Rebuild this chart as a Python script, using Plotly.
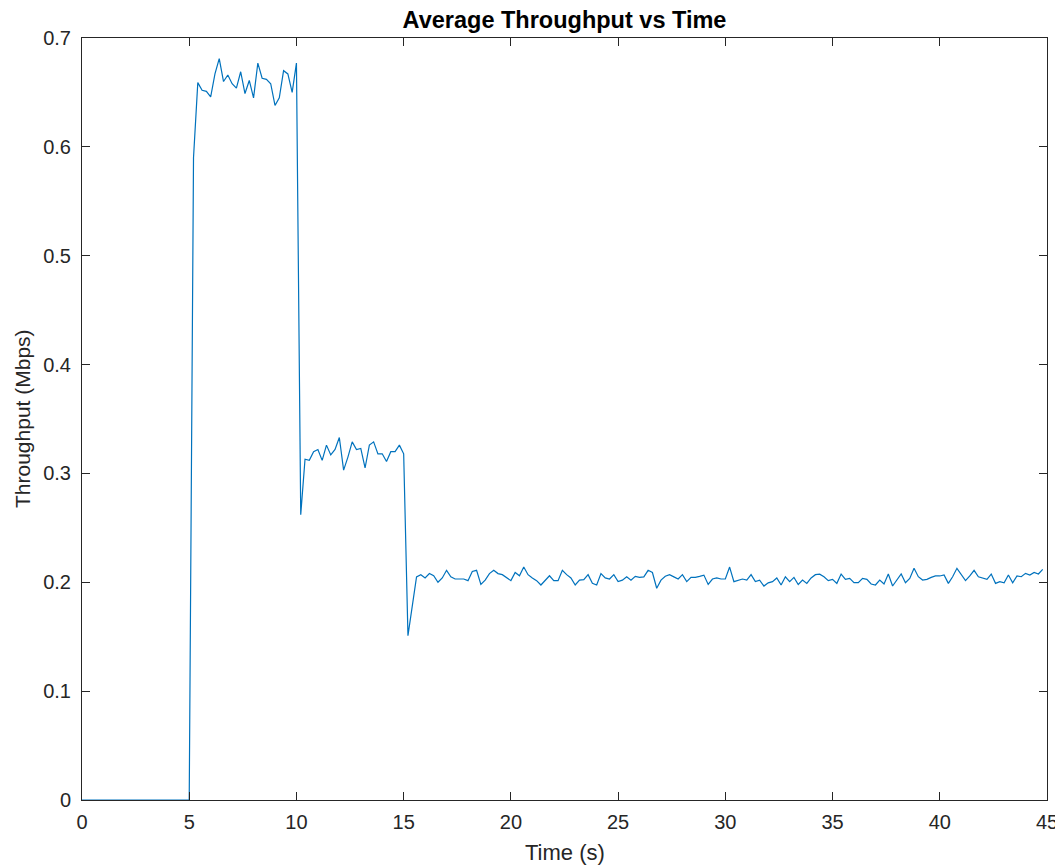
import numpy as np
import plotly.graph_objects as go

# sampling step 0.2 s, 225 samples (0 .. 44.8 s)
n_samples = 225
step_s = 0.2
time_s = np.round(np.arange(n_samples) * step_s, 1)

idle = [0.0] * 26  # 0.0 .. 5.0 s

phase1 = [0.590, 0.659, 0.652, 0.651, 0.646, 0.667, 0.681, 0.660, 0.666, 0.658,
          0.654, 0.669, 0.649, 0.661, 0.645, 0.677, 0.663, 0.662, 0.658, 0.638,
          0.645, 0.670, 0.667, 0.650, 0.677]  # 5.2 .. 10.0 s

phase2 = [0.262, 0.313, 0.312, 0.320, 0.322, 0.312, 0.326, 0.317, 0.322, 0.333,
          0.303, 0.315, 0.329, 0.322, 0.323, 0.305, 0.326, 0.329, 0.318, 0.318,
          0.311, 0.320, 0.320, 0.326, 0.318]  # 10.2 .. 15.0 s

phase3 = [0.151, 0.180,
          0.205, 0.207, 0.204, 0.208, 0.206, 0.200, 0.204, 0.211, 0.205, 0.203,
          0.203, 0.203, 0.2015, 0.210, 0.211, 0.198, 0.202, 0.208, 0.211, 0.208,
          0.207, 0.204, 0.2015, 0.209, 0.206, 0.214, 0.207, 0.204, 0.2015, 0.1975,
          0.2015, 0.206, 0.2015, 0.2015,
          0.211, 0.207, 0.204, 0.1975, 0.202, 0.2025, 0.207, 0.199, 0.1975,
          0.208, 0.204, 0.203, 0.207, 0.2006, 0.202, 0.205, 0.202, 0.2055, 0.2045,
          0.205, 0.211, 0.209, 0.1945, 0.202, 0.2055, 0.207, 0.205, 0.203, 0.207,
          0.2006, 0.2045, 0.2045, 0.2055, 0.2066, 0.198, 0.203, 0.204, 0.203, 0.203,
          0.214, 0.2006, 0.202, 0.203, 0.202, 0.207, 0.2006, 0.202, 0.1965, 0.1995,
          0.2006, 0.204, 0.1975, 0.205, 0.2006, 0.2045, 0.198, 0.202, 0.199, 0.204,
          0.207, 0.2075,
          0.205, 0.2015, 0.2027, 0.199, 0.2076, 0.2027, 0.2036, 0.1996, 0.1996, 0.2036,
          0.2027, 0.1984, 0.1975, 0.2021, 0.1984, 0.2076, 0.1966, 0.2027, 0.2076, 0.1996,
          0.2036, 0.2128, 0.2051, 0.2021, 0.2027, 0.2045, 0.2058, 0.2058, 0.2067, 0.199,
          0.2051, 0.2128, 0.2067, 0.2015, 0.2058, 0.211, 0.2051, 0.2036, 0.2027, 0.2076,
          0.199, 0.2006, 0.1996, 0.2067, 0.1996, 0.2058, 0.2051, 0.2082, 0.2067, 0.2091,
          0.2076, 0.2119]  # 15.2 .. 44.8 s

throughput = idle + phase1 + phase2 + phase3

x_ticks = [0, 5, 10, 15, 20, 25, 30, 35, 40, 45]
y_ticks = [0, 0.1, 0.2, 0.3, 0.4, 0.5, 0.6, 0.7]
y_tick_labels = ["0", "0.1", "0.2", "0.3", "0.4", "0.5", "0.6", "0.7"]

fig = go.Figure()
fig.add_trace(go.Scatter(
    x=time_s[:len(throughput)], y=throughput, mode="lines",
    line=dict(color="#0072BD", width=1.2),
    showlegend=False, cliponaxis=False,
))

axis_common = dict(
    showgrid=False, zeroline=False, showline=True, linecolor="#262626",
    linewidth=1, mirror="ticks", ticks="inside", ticklen=8, tickwidth=1,
    tickcolor="#262626", tickfont=dict(size=20, color="#262626"),
    automargin=False,
)

# the page body has an 8px margin, so the figure is 1055x859 placed at (8, 8)
fig_w, fig_h = 1055, 859

fig.update_layout(
    width=fig_w, height=fig_h,
    margin=dict(l=74, r=16, t=30, b=67),
    paper_bgcolor="white", plot_bgcolor="white",
    font=dict(family="Liberation Sans, Arial, sans-serif", color="#262626"),
    title=dict(text="<b>Average Throughput vs Time</b>", x=0.5, xanchor="center",
               xref="paper", y=1 - 12 / fig_h, yref="container", yanchor="middle",
               font=dict(size=23.5, color="black")),
    xaxis=dict(range=[0, 45], tickvals=x_ticks, ticktext=[str(v) for v in x_ticks],
               ticklabelstandoff=4, **axis_common),
    yaxis=dict(range=[0, 0.7], tickvals=y_ticks, ticktext=y_tick_labels,
               ticklabelstandoff=6, **axis_common),
    annotations=[
        dict(text="Time (s)", x=0.5, y=0, xref="paper", yref="paper",
             xanchor="center", yanchor="middle", yshift=-52, showarrow=False,
             font=dict(size=22, color="#262626")),
        dict(text="Throughput (Mbps)", x=0, y=0.5, xref="paper", yref="paper",
             xanchor="center", yanchor="middle", xshift=-60, textangle=-90,
             showarrow=False, font=dict(size=21, color="#262626")),
    ],
)

fig.write_html("out.html")
